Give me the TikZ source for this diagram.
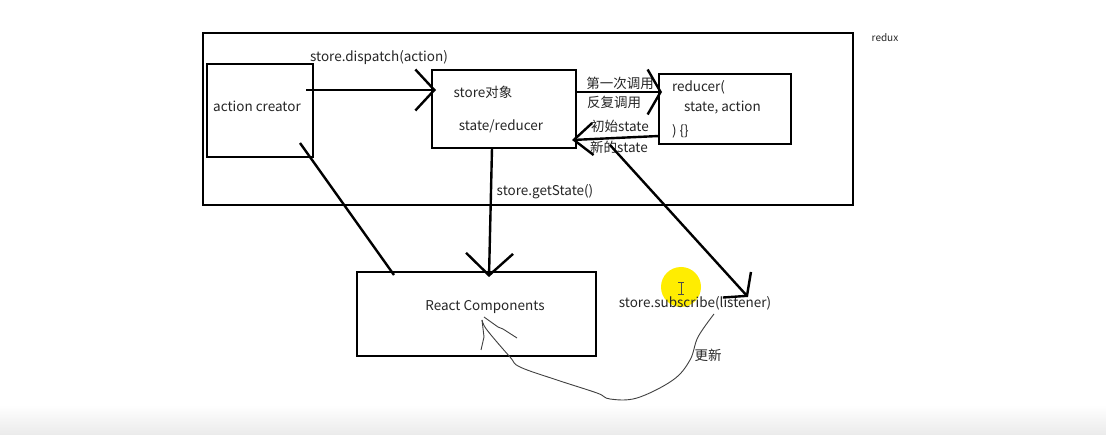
\documentclass[tikz,border=0pt]{standalone}
\usepackage{fontspec}
\setmainfont{Noto Sans CJK SC}
\usetikzlibrary{arrows.meta}
\begin{document}
\begin{tikzpicture}[x=1pt,y=-1pt,
  every node/.style={inner sep=0pt,outer sep=0pt},
  box/.style={draw=black,line width=2.8pt},
  lbl/.style={text=black!85,font=\fontsize{13.5}{15}\selectfont},
  small/.style={text=black!85,font=\fontsize{10}{12}\selectfont},
  conn/.style={draw=black,line width=2.4pt},
  thin/.style={draw=black!75,line width=0.9pt}]
\useasboundingbox (0,0) rectangle (1106,435);
\fill[white] (0,0) rectangle (1106,435);
\shade[top color=white,bottom color=black!8] (0,405) rectangle (1106,435);
% boxes
\node[box,minimum width=650pt,minimum height=172pt] (redux) at (528,119) {};
\node[box,minimum width=106pt,minimum height=93pt] (ac) at (260,110.5) {};
\node[box,minimum width=144pt,minimum height=78pt] (store) at (504,109) {};
\node[box,minimum width=132pt,minimum height=70pt] (reducer) at (725,109) {};
\node[box,minimum width=239pt,minimum height=84pt] (react) at (476.5,314) {};
% texts
\node[small] (reduxlbl) at (885,38) {redux};
\node[lbl] (aclbl) at (257,106) {action creator};
\node[lbl] (storelbl) at (483,92) {store对象};
\node[lbl] (srlbl) at (501,126) {state/reducer};
\node[lbl,anchor=west] (red1) at (672,87) {reducer(};
\node[lbl,anchor=west] (red2) at (684,108) {state, action};
\node[lbl,anchor=west] (red3) at (672,131) {) \{\}};
\node[lbl] (reactlbl) at (485,307) {React Components};
\node[lbl] (displbl) at (379,58) {store.dispatch(action)};
\node[lbl] (first) at (620,83) {第一次调用};
\node[lbl] (repeat) at (614,102) {反复调用};
\node[lbl] (init) at (620,126) {初始state};
\node[lbl] (newst) at (619,147) {新的state};
\node[lbl] (gslbl) at (545,192) {store.getState()};
% cursor highlight
\fill[yellow!95!orange] (681,287) circle (20pt);
\draw[black!70,line width=0.8pt] (678,282) -- (684,282) (681,282) -- (681,294) (678,294) -- (684,294);
\node[lbl] (sub) at (695,303) {store.subscribe(listener)};
\node[lbl] (upd) at (708,355) {更新};
\coordinate (subtip) at (748,297);
% connectors
\draw[conn,-{Straight Barb[length=19pt,width=41pt]}] ([shift={(-7,26)}]ac.north east) -- ([shift={(4,20)}]store.north west);
\draw[conn,-{Straight Barb[length=13pt,width=45pt]}] ([shift={(0,22)}]store.north east) -- ([shift={(3,18)}]reducer.north west);
\draw[conn,-{Straight Barb[length=19pt,width=32pt]}] ([shift={(0,62)}]reducer.north west) -- ([shift={(-4,-8)}]store.south east);
\draw[conn,-{Straight Barb[length=22pt,width=47pt]}] ([shift={(-84,0)}]store.south east) -- ([shift={(132,5)}]react.north west);
\draw[conn] ([shift={(-13,-14)}]ac.south east) -- ([shift={(37,3)}]react.north west);
\draw[conn,-{Straight Barb[length=15pt,width=38pt]}] ([shift={(34,-3)}]store.south east) -- (subtip);
% hand drawn update curve
\draw[thin] plot[smooth,tension=0.6] coordinates {(714,314) (698,337) (690,360) (673,380) (637,398) (610,399) (597,393) (557,380) (520,367) (510,357) (487,330) (482,320)};
\draw[thin] (482,320) -- (484,337) -- (481,350);
\draw[thin] (484,317) -- (498,327) -- (503,329) -- (517,338);
\end{tikzpicture}
\end{document}
